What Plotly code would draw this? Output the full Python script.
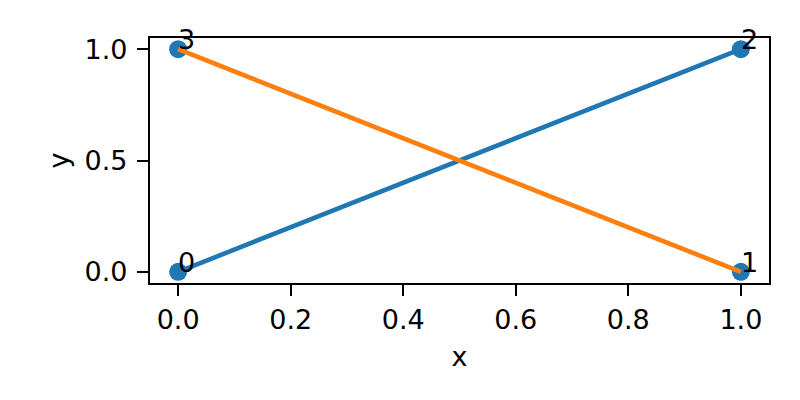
import plotly.graph_objects as go

# Data
point_x = [0, 1, 1, 0]
point_y = [0, 0, 1, 1]
point_labels = ["0", "1", "2", "3"]

blue_x = [0, 1]
blue_y = [0, 1]
orange_x = [0, 1]
orange_y = [1, 0]

x_ticks = [0.0, 0.2, 0.4, 0.6, 0.8, 1.0]
y_ticks = [0.0, 0.5, 1.0]

BLUE = "#1f77b4"
ORANGE = "#ff7f0e"
FONT = "DejaVu Sans"
FS = 27

fig = go.Figure()
fig.add_trace(go.Scatter(x=point_x, y=point_y, mode="markers",
                         marker=dict(color=BLUE, size=18, line=dict(width=0)),
                         showlegend=False, hoverinfo="skip"))
fig.add_trace(go.Scatter(x=blue_x, y=blue_y, mode="lines",
                         line=dict(color=BLUE, width=4.6), showlegend=False))
fig.add_trace(go.Scatter(x=orange_x, y=orange_y, mode="lines",
                         line=dict(color=ORANGE, width=4.6), showlegend=False))

for px, py, lab in zip(point_x, point_y, point_labels):
    fig.add_annotation(x=px, y=py, text=lab, showarrow=False,
                       xanchor="left", yanchor="bottom", xshift=-1, yshift=-7,
                       borderpad=0,
                       font=dict(family=FONT, size=FS, color="black"))

axis_common = dict(
    showline=True, mirror=True, linecolor="black", linewidth=2.2,
    ticks="outside", ticklen=11, tickwidth=2.2, tickcolor="black",
    showgrid=False, zeroline=False,
    tickfont=dict(family=FONT, size=FS, color="black"),
)

fig.update_xaxes(range=[-0.05, 1.05], tickvals=x_ticks,
                 ticktext=[f"{v:.1f}" for v in x_ticks],
                 title=dict(text="x", font=dict(family=FONT, size=FS, color="black"), standoff=14),
                 **axis_common)
fig.update_yaxes(range=[-0.05, 1.05], tickvals=y_ticks,
                 ticktext=[f"{v:.1f}" for v in y_ticks],
                 ticklabelstandoff=4,
                 title=dict(text="y", font=dict(family=FONT, size=FS, color="black"), standoff=8),
                 **axis_common)

fig.update_layout(
    width=800, height=400,
    margin=dict(l=142, r=39, t=30, b=125),
    plot_bgcolor="white", paper_bgcolor="white",
    font=dict(family=FONT, size=FS, color="black"),
)

fig.write_html("out.html")
